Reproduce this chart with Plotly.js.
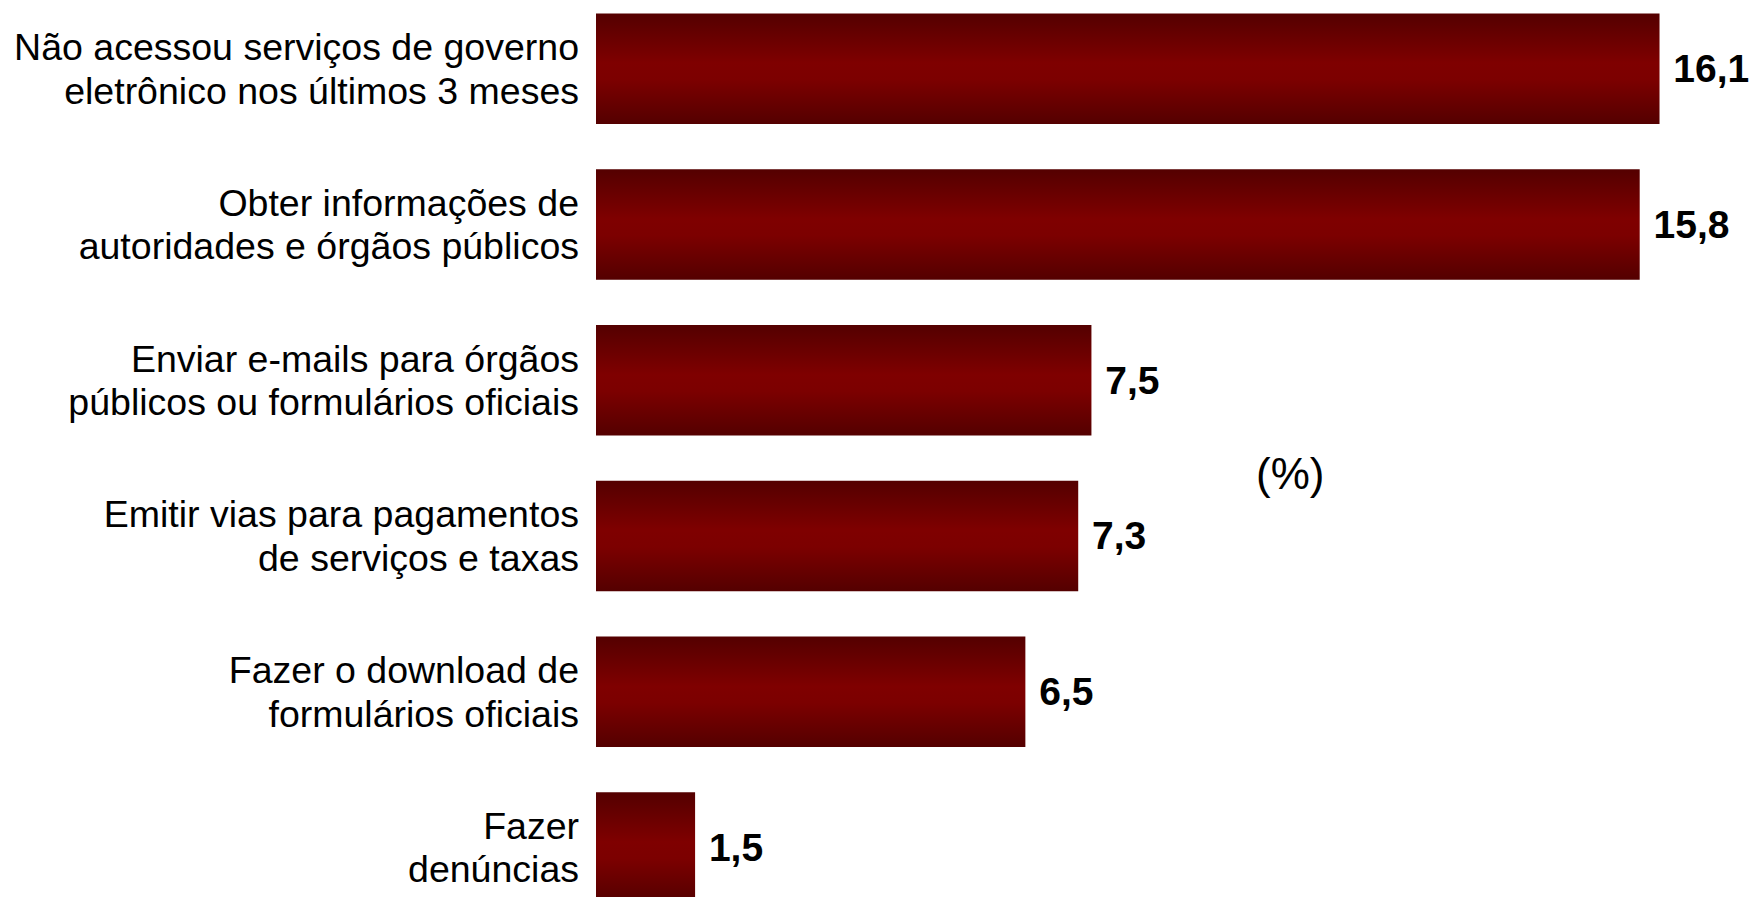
<!DOCTYPE html>
<html>
<head>
<meta charset="utf-8">
<script src="https://cdn.plot.ly/plotly-3.0.1.min.js"></script>
<style>
  html, body { margin: 0; padding: 0; background: #ffffff; }
  #chart { width: 1752px; height: 897px; }
</style>
</head>
<body>
<div id="chart"></div>
<script>
// ---- data ----
const categories = [
  "Não acessou serviços de governo<br>eletrônico nos últimos 3 meses",
  "Obter informações de<br>autoridades e órgãos públicos",
  "Enviar e-mails para órgãos<br>públicos ou formulários oficiais",
  "Emitir vias para pagamentos<br>de serviços e taxas",
  "Fazer o download de<br>formulários oficiais",
  "Fazer<br>denúncias"
];
const values = [16.1, 15.8, 7.5, 7.3, 6.5, 1.5];
const unitLabel = "(%)";

const valueLabels = values.map(v => " " + v.toFixed(1).replace(".", ","));

const FONT = '"Liberation Sans", Arial, Helvetica, sans-serif';

const trace = {
  type: "bar",
  orientation: "h",
  x: values,
  y: categories,
  marker: { color: "#780000", line: { width: 0 } },
  text: valueLabels,
  textposition: "outside",
  constraintext: "none",
  cliponaxis: false,
  textfont: { family: FONT, size: 39, color: "#000000", weight: "bold" },
  hoverinfo: "none"
};

const layout = {
  width: 1752,
  height: 897,
  margin: { l: 596, r: 0, t: 0, b: 0, pad: 0 },
  paper_bgcolor: "#ffffff",
  plot_bgcolor: "#ffffff",
  bargap: 0.29,
  showlegend: false,
  xaxis: {
    range: [0, 17.5],
    visible: false,
    showgrid: false,
    zeroline: false,
    fixedrange: true
  },
  yaxis: {
    type: "category",
    categoryorder: "array",
    categoryarray: categories,
    range: [5.318, -0.441],
    autorange: false,
    showgrid: false,
    zeroline: false,
    showline: false,
    ticks: "",
    ticklabelstandoff: 16,
    tickfont: { family: FONT, size: 37.5, color: "#000000" },
    automargin: false,
    fixedrange: true
  },
  annotations: [{
    text: unitLabel,
    xref: "paper", yref: "paper",
    x: 0.6, y: 0.472,
    xanchor: "center", yanchor: "middle",
    showarrow: false,
    font: { family: FONT, size: 44, color: "#000000" }
  }]
};

const gd = document.getElementById("chart");
Plotly.newPlot(gd, [trace], layout, { staticPlot: true, displayModeBar: false }).then(() => {
  const svg = gd.querySelector("svg.main-svg");
  const ns = "http://www.w3.org/2000/svg";
  let defs = svg.querySelector("defs");
  if (!defs) { defs = document.createElementNS(ns, "defs"); svg.insertBefore(defs, svg.firstChild); }
  const grad = document.createElementNS(ns, "linearGradient");
  grad.setAttribute("id", "barGrad");
  grad.setAttribute("x1", "0"); grad.setAttribute("y1", "0");
  grad.setAttribute("x2", "0"); grad.setAttribute("y2", "1");
  [["0", "#540000"], ["0.45", "#7f0000"], ["0.6", "#7c0000"], ["1", "#540000"]].forEach(([o, c]) => {
    const s = document.createElementNS(ns, "stop");
    s.setAttribute("offset", o);
    s.setAttribute("stop-color", c);
    grad.appendChild(s);
  });
  defs.appendChild(grad);
  gd.querySelectorAll(".bars .point path").forEach(p => { p.style.fill = "url(#barGrad)"; });

  // tighten line spacing of the two-line category labels, keeping them centred
  gd.querySelectorAll(".ytick text").forEach(t => {
    const lines = t.querySelectorAll("tspan.line");
    if (lines.length < 2) return;
    const b0 = t.getBBox();
    for (let i = 1; i < lines.length; i++) lines[i].setAttribute("dy", "1.16em");
    const b1 = t.getBBox();
    const shift = (b0.y + b0.height / 2) - (b1.y + b1.height / 2);
    const tr = t.getAttribute("transform") || "";
    t.setAttribute("transform", (tr + " translate(0," + shift.toFixed(2) + ")").trim());
  });
});
</script>
</body>
</html>
